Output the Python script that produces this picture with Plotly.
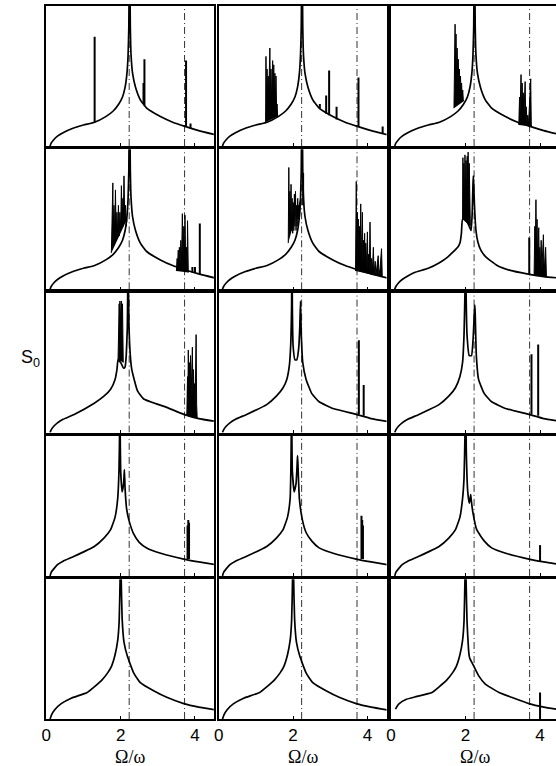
import plotly.graph_objects as go

# ------------------------------------------------------------------ data
tick_vals = [0, 2, 4]
tick_text = ["0", "2", "4"]
ref_lines = [2.23, 3.72]
x_label = "Ω/ω"
y_label = "S<sub>0</sub>"

# base spectrum with the singular peak at ~2.24 (upper rows)
baseA_x = [0.10, 0.13, 0.20, 0.30, 0.45, 0.70, 1.00, 1.30, 1.60, 1.80, 1.95, 2.05, 2.12, 2.17, 2.20, 2.22,
           2.233, 2.24, 2.247, 2.26, 2.28, 2.32, 2.40, 2.53, 2.70, 3.07, 3.40, 3.73, 4.10, 4.55]
baseA_y = [0.00, 0.02, 0.045, 0.07, 0.095, 0.125, 0.15, 0.17, 0.21, 0.25, 0.30, 0.35, 0.42, 0.52, 0.65, 0.85,
           1.30, 1.60, 1.30, 0.85, 0.65, 0.52, 0.42, 0.33, 0.27, 0.21, 0.17, 0.14, 0.11, 0.08]

# base spectrum with the singular peak at ~2.0 (lowest row)
baseB_x = [0.10, 0.14, 0.22, 0.40, 0.67, 1.10, 1.29, 1.50, 1.65, 1.75, 1.85, 1.92, 1.96, 1.985, 1.995, 2.00,
           2.005, 2.015, 2.04, 2.09, 2.18, 2.35, 2.53, 2.90, 3.24, 3.70, 4.10, 4.55]
baseB_y = [0.00, 0.03, 0.065, 0.11, 0.149, 0.19, 0.23, 0.28, 0.33, 0.375, 0.46, 0.56, 0.70, 1.00, 1.40, 1.60,
           1.40, 1.00, 0.72, 0.55, 0.45, 0.33, 0.26, 0.20, 0.155, 0.11, 0.085, 0.065]

# row 1, col 1
r1c1_sp_x = [1.30, 2.615, 2.64, 3.76, 3.88]
r1c1_sp_lo = [0.17, 0.30, 0.29, 0.14, 0.125]
r1c1_sp_hi = [0.78, 0.45, 0.62, 0.61, 0.16]

# row 1, col 2
r1c2_cl_x = [1.26, 1.27, 1.285, 1.30, 1.315, 1.33, 1.345, 1.36, 1.375, 1.39, 1.405, 1.42, 1.435, 1.45, 1.465,
             1.48, 1.495, 1.51, 1.525, 1.54, 1.555, 1.57, 1.585]
r1c2_cl_y = [0.17, 0.64, 0.30, 0.55, 0.32, 0.50, 0.33, 0.60, 0.70, 0.35, 0.55, 0.33, 0.50, 0.61, 0.35,
             0.58, 0.32, 0.52, 0.30, 0.50, 0.28, 0.30, 0.21]
r1c2_sp_x = [2.72, 2.89, 2.97, 3.17, 3.76, 4.41]
r1c2_sp_lo = [0.27, 0.23, 0.22, 0.19, 0.14, 0.085]
r1c2_sp_hi = [0.30, 0.36, 0.54, 0.28, 0.49, 0.14]

# row 1, col 3
r1c3_cl_x = [1.69, 1.70, 1.71, 1.72, 1.73, 1.745, 1.76, 1.775, 1.79, 1.805, 1.82, 1.835, 1.85, 1.865, 1.88,
             1.895, 1.91, 1.925, 1.94, 1.95, None,
             3.43, 3.45, 3.46, 3.48, 3.49, 3.505, 3.52, 3.535, 3.55, 3.565, 3.58, 3.60, 3.615, 3.63, 3.65,
             3.67, 3.69, 3.71, 3.73, 3.75, 3.765, 3.78]
r1c3_cl_y = [0.27, 0.60, 0.40, 0.87, 0.50, 0.80, 0.45, 0.70, 0.45, 0.62, 0.42, 0.55, 0.40, 0.50, 0.38,
             0.45, 0.35, 0.40, 0.33, 0.32, None,
             0.15, 0.35, 0.20, 0.45, 0.51, 0.22, 0.45, 0.20, 0.38, 0.20, 0.30, 0.46, 0.20, 0.28, 0.16,
             0.22, 0.15, 0.25, 0.35, 0.48, 0.15, 0.14]

# row 2, col 1
r2c1_cl_x = [1.75, 1.77, 1.79, 1.80, 1.82, 1.84, 1.86, 1.88, 1.90, 1.92, 1.94, 1.96, 1.98, 2.00, 2.02, 2.04,
             2.06, 2.07, 2.09, 2.11, 2.13, 2.15, 2.17, None,
             3.50, 3.52, 3.53, 3.55, 3.56, 3.58, 3.60, 3.62, 3.64, 3.66, 3.68, 3.70, 3.72, 3.73, 3.75, 3.77,
             3.79, 3.80, 3.82]
r2c1_cl_y = [0.26, 0.50, 0.76, 0.40, 0.60, 0.40, 0.71, 0.38, 0.55, 0.40, 0.60, 0.38, 0.55, 0.42, 0.74, 0.45,
             0.65, 0.45, 0.81, 0.50, 0.60, 0.45, 0.50, None,
             0.13, 0.22, 0.15, 0.28, 0.16, 0.30, 0.18, 0.35, 0.20, 0.54, 0.22, 0.45, 0.20, 0.53, 0.20, 0.30,
             0.15, 0.49, 0.12]
r2c1_sp_x = [3.93, 4.00, 4.13]
r2c1_sp_lo = [0.12, 0.12, 0.11]
r2c1_sp_hi = [0.16, 0.16, 0.47]

# row 2, col 2
r2c2_cl_x = [1.87, 1.885, 1.90, 1.915, 1.93, 1.945, 1.96, 1.975, 1.99, 2.005, 2.02, 2.035, 2.05, 2.065, 2.08,
             2.095, 2.11, 2.125, 2.14, 2.155, 2.17, 2.185, 2.20, None,
             3.68, 3.69, 3.70, 3.715, 3.73, 3.745, 3.76, 3.775, 3.79, 3.805, 3.82, 3.835, 3.85, 3.865, 3.88,
             3.895, 3.91, 3.925, 3.94, 3.955, 3.97, 3.985, 4.00, 4.015, 4.03, 4.05, 4.07, 4.09, 4.11, 4.13,
             4.16, 4.18, 4.21, 4.23, 4.26, 4.29, 4.31, 4.34, 4.38, 4.40]
r2c2_cl_y = [0.33, 0.87, 0.45, 0.70, 0.45, 0.75, 0.42, 0.65, 0.40, 0.62, 0.42, 0.68, 0.45, 0.70, 0.42,
             0.60, 0.45, 0.65, 0.50, 0.60, 0.50, 0.55, 0.65, None,
             0.13, 0.60, 0.77, 0.25, 0.55, 0.20, 0.50, 0.20, 0.45, 0.20, 0.61, 0.20, 0.40, 0.55, 0.18,
             0.35, 0.15, 0.40, 0.15, 0.33, 0.14, 0.30, 0.41, 0.13, 0.25, 0.12, 0.48, 0.12, 0.22, 0.11,
             0.30, 0.11, 0.20, 0.10, 0.18, 0.24, 0.10, 0.15, 0.29, 0.09]
r2c2_sp_x = [2.27]
r2c2_sp_lo = [0.60]
r2c2_sp_hi = [0.83]

# row 2, col 3
r2c3_x = [0.10, 0.13, 0.20, 0.30, 0.45, 0.63, 1.00, 1.30, 1.52, 1.79, 1.85, 1.89, 1.92, 2.00, 2.10, 2.15,
          2.18, 2.20, 2.21, 2.22, 2.24, 2.28, 2.33, 2.41, 2.55, 2.85, 3.20, 3.65, 4.10, 4.55]
r2c3_y = [0.00, 0.02, 0.045, 0.07, 0.095, 0.12, 0.15, 0.19, 0.23, 0.30, 0.33, 0.40, 0.50, 0.50, 0.45, 0.42,
          0.55, 0.75, 0.81, 0.75, 0.60, 0.42, 0.34, 0.28, 0.23, 0.17, 0.135, 0.11, 0.09, 0.08]
r2c3_cl_x = [1.92, 1.93, 1.94, 1.955, 1.97, 1.985, 2.00, 2.015, 2.03, 2.045, 2.06, 2.07, 2.085, 2.10, 2.115,
             2.13, None,
             3.84, 3.86, 3.875, 3.89, 3.905, 3.92, 3.935, 3.95, 3.965, 3.98, 3.995, 4.01, 4.03, 4.05, 4.07,
             4.09, 4.11, 4.13, 4.15, 4.17, 4.19]
r2c3_cl_y = [0.50, 0.94, 0.60, 0.90, 0.60, 0.96, 0.65, 0.92, 0.60, 0.95, 0.70, 0.98, 0.60, 0.90, 0.50,
             0.45, None,
             0.10, 0.45, 0.30, 0.64, 0.25, 0.50, 0.20, 0.40, 0.44, 0.18, 0.30, 0.15, 0.35, 0.14, 0.30,
             0.39, 0.12, 0.25, 0.30, 0.10, 0.09]
r2c3_sp_x = [3.71]
r2c3_sp_lo = [0.11]
r2c3_sp_hi = [0.37]

# row 3, col 1
r3c1_x = [0.10, 0.13, 0.20, 0.30, 0.45, 0.75, 1.29, 1.55, 1.73, 1.85, 1.90, 1.93, 2.00, 2.08, 2.12, 2.15,
          2.18, 2.195, 2.20, 2.205, 2.22, 2.26, 2.30, 2.45, 2.62, 3.24, 3.70, 4.10, 4.55]
r3c1_y = [0.00, 0.02, 0.045, 0.07, 0.095, 0.13, 0.21, 0.26, 0.31, 0.38, 0.45, 0.52, 0.50, 0.46, 0.47, 0.55,
          0.75, 1.20, 1.60, 1.20, 0.80, 0.55, 0.45, 0.30, 0.24, 0.18, 0.13, 0.10, 0.08]
r3c1_cl_x = [1.93, 1.94, 1.95, 1.96, 1.97, 1.98, 2.00, 2.02, 2.03, 2.05, 2.06, 2.07, None,
             3.78, 3.80, 3.81, 3.82, 3.835, 3.85, 3.865, 3.88, 3.895, 3.91, 3.93, 3.945, 3.96, 3.975, 3.99,
             4.005, 4.02, 4.03, 4.045, 4.06]
r3c1_cl_y = [0.52, 0.85, 0.70, 0.92, 0.75, 0.94, 0.80, 0.94, 0.80, 0.92, 0.70, 0.50, None,
             0.12, 0.40, 0.25, 0.59, 0.30, 0.50, 0.30, 0.55, 0.25, 0.45, 0.61, 0.25, 0.45, 0.20, 0.35,
             0.20, 0.60, 0.70, 0.20, 0.10]

# row 3, col 2
r3c2_x = [0.10, 0.13, 0.20, 0.30, 0.45, 0.75, 1.29, 1.55, 1.73, 1.83, 1.90, 1.94, 1.96, 1.97, 1.98, 2.00,
          2.05, 2.10, 2.15, 2.18, 2.20, 2.22, 2.26, 2.35, 2.50, 2.70, 3.10, 3.70, 4.10, 4.55]
r3c2_y = [0.00, 0.02, 0.045, 0.07, 0.095, 0.13, 0.20, 0.26, 0.32, 0.38, 0.48, 0.65, 0.90, 1.50, 0.90, 0.62,
          0.52, 0.52, 0.60, 0.75, 0.94, 0.70, 0.50, 0.38, 0.28, 0.22, 0.17, 0.13, 0.10, 0.08]
r3c2_sp_x = [3.77, 3.90]
r3c2_sp_lo = [0.13, 0.12]
r3c2_sp_hi = [0.66, 0.34]

# row 3, col 3
r3c3_x = [0.10, 0.13, 0.20, 0.30, 0.45, 0.75, 1.29, 1.55, 1.73, 1.85, 1.92, 1.96, 1.985, 2.00, 2.015, 2.04,
          2.10, 2.16, 2.21, 2.24, 2.25, 2.26, 2.29, 2.35, 2.50, 2.70, 3.10, 3.70, 4.10, 4.55]
r3c3_y = [0.00, 0.02, 0.045, 0.07, 0.095, 0.13, 0.20, 0.26, 0.32, 0.40, 0.50, 0.70, 1.00, 1.50, 1.00, 0.70,
          0.55, 0.55, 0.70, 0.88, 0.91, 0.85, 0.55, 0.38, 0.28, 0.22, 0.17, 0.13, 0.10, 0.08]
r3c3_sp_x = [3.77, 3.95]
r3c3_sp_lo = [0.13, 0.12]
r3c3_sp_hi = [0.56, 0.63]

# row 4, col 1
r4c1_x = [0.10, 0.13, 0.20, 0.30, 0.45, 0.75, 1.29, 1.55, 1.73, 1.85, 1.92, 1.955, 1.975, 1.98, 1.985, 2.00,
          2.04, 2.08, 2.10, 2.12, 2.16, 2.22, 2.35, 2.50, 2.70, 3.10, 3.70, 4.10, 4.55]
r4c1_y = [0.00, 0.025, 0.05, 0.08, 0.105, 0.14, 0.21, 0.27, 0.33, 0.42, 0.55, 0.75, 1.10, 1.50, 1.10, 0.75,
          0.60, 0.66, 0.76, 0.62, 0.48, 0.40, 0.30, 0.24, 0.20, 0.16, 0.12, 0.10, 0.08]
r4c1_sp_x = [3.80, 3.82, 3.84]
r4c1_sp_lo = [0.12, 0.12, 0.12]
r4c1_sp_hi = [0.36, 0.40, 0.38]

# row 4, col 2
r4c2_x = [0.10, 0.13, 0.20, 0.30, 0.45, 0.75, 1.29, 1.55, 1.73, 1.85, 1.92, 1.94, 1.955, 1.96, 1.965, 1.98,
          2.03, 2.08, 2.11, 2.12, 2.13, 2.17, 2.25, 2.35, 2.50, 2.70, 3.10, 3.70, 4.10, 4.55]
r4c2_y = [0.00, 0.025, 0.05, 0.08, 0.105, 0.14, 0.21, 0.27, 0.33, 0.42, 0.55, 0.75, 1.10, 1.50, 1.10, 0.75,
          0.60, 0.66, 0.80, 0.86, 0.80, 0.55, 0.40, 0.31, 0.25, 0.20, 0.16, 0.12, 0.10, 0.08]
r4c2_sp_x = [3.84, 3.86, 3.88]
r4c2_sp_lo = [0.12, 0.12, 0.12]
r4c2_sp_hi = [0.43, 0.40, 0.36]

# row 4, col 3
r4c3_x = [0.10, 0.13, 0.20, 0.30, 0.45, 0.75, 1.29, 1.55, 1.73, 1.85, 1.92, 1.96, 1.985, 1.995, 2.00, 2.005,
          2.02, 2.06, 2.10, 2.13, 2.14, 2.15, 2.20, 2.30, 2.50, 2.70, 3.10, 3.70, 4.10, 4.55]
r4c3_y = [0.00, 0.025, 0.05, 0.08, 0.105, 0.14, 0.21, 0.27, 0.33, 0.42, 0.55, 0.70, 1.00, 1.40, 1.60, 1.40,
          0.90, 0.60, 0.52, 0.56, 0.58, 0.55, 0.45, 0.33, 0.25, 0.20, 0.16, 0.12, 0.10, 0.08]
r4c3_sp_x = [4.00]
r4c3_sp_lo = [0.10]
r4c3_sp_hi = [0.22]

# row 5, col 3
r5c3_x = [0.12, 0.16, 0.22, 0.40, 0.67, 1.10, 1.29, 1.50, 1.65, 1.75, 1.85, 1.92, 1.96, 1.985, 1.995, 2.00,
          2.005, 2.015, 2.04, 2.08, 2.10, 2.12, 2.18, 2.35, 2.53, 2.90, 3.24, 3.70, 4.10, 4.55]
r5c3_y = [0.07, 0.09, 0.11, 0.14, 0.16, 0.19, 0.23, 0.28, 0.33, 0.375, 0.46, 0.56, 0.70, 1.00, 1.40, 1.60,
          1.40, 1.00, 0.70, 0.50, 0.45, 0.43, 0.40, 0.31, 0.25, 0.19, 0.155, 0.11, 0.085, 0.065]
r5c3_sp_x = [4.00]
r5c3_sp_lo = [0.00]
r5c3_sp_hi = [0.19]

empty = []

panels = [
    (baseA_x, baseA_y, empty, empty, r1c1_sp_x, r1c1_sp_lo, r1c1_sp_hi),
    (baseA_x, baseA_y, r1c2_cl_x, r1c2_cl_y, r1c2_sp_x, r1c2_sp_lo, r1c2_sp_hi),
    (baseA_x, baseA_y, r1c3_cl_x, r1c3_cl_y, empty, empty, empty),
    (baseA_x, baseA_y, r2c1_cl_x, r2c1_cl_y, r2c1_sp_x, r2c1_sp_lo, r2c1_sp_hi),
    (baseA_x, baseA_y, r2c2_cl_x, r2c2_cl_y, r2c2_sp_x, r2c2_sp_lo, r2c2_sp_hi),
    (r2c3_x, r2c3_y, r2c3_cl_x, r2c3_cl_y, r2c3_sp_x, r2c3_sp_lo, r2c3_sp_hi),
    (r3c1_x, r3c1_y, r3c1_cl_x, r3c1_cl_y, empty, empty, empty),
    (r3c2_x, r3c2_y, empty, empty, r3c2_sp_x, r3c2_sp_lo, r3c2_sp_hi),
    (r3c3_x, r3c3_y, empty, empty, r3c3_sp_x, r3c3_sp_lo, r3c3_sp_hi),
    (r4c1_x, r4c1_y, empty, empty, r4c1_sp_x, r4c1_sp_lo, r4c1_sp_hi),
    (r4c2_x, r4c2_y, empty, empty, r4c2_sp_x, r4c2_sp_lo, r4c2_sp_hi),
    (r4c3_x, r4c3_y, empty, empty, r4c3_sp_x, r4c3_sp_lo, r4c3_sp_hi),
    (baseB_x, baseB_y, empty, empty, empty, empty, empty),
    (baseB_x, baseB_y, empty, empty, empty, empty, empty),
    (r5c3_x, r5c3_y, empty, empty, r5c3_sp_x, r5c3_sp_lo, r5c3_sp_hi),
]

# ------------------------------------------------------------------ layout geometry (pixels)
W, H = 556, 766
col_px = [(41.7, 210.7), (215.7, 385.0), (389.5, 556.0)]
px_per_unit = [37.5, 37.5, 37.6]
row_px = [(6.0, 146.0), (149.3, 289.3), (292.6, 432.6), (435.9, 575.9), (579.2, 719.0)]

fig = go.Figure()
layout = dict(width=W, height=H, margin=dict(l=0, r=0, t=0, b=0),
              paper_bgcolor="white", plot_bgcolor="white", showlegend=False,
              font=dict(family="Liberation Sans, Arial, sans-serif", size=17, color="black"))
annotations = []

for k, (bx, by, cx, cy, sx, slo, shi) in enumerate(panels):
    r, c = divmod(k, 3)
    xa = "x" if k == 0 else f"x{k + 1}"
    ya = "y" if k == 0 else f"y{k + 1}"
    xkey = "xaxis" if k == 0 else f"xaxis{k + 1}"
    ykey = "yaxis" if k == 0 else f"yaxis{k + 1}"
    x0, x1 = col_px[c]
    y0, y1 = row_px[r]
    xmax = (x1 - x0) / px_per_unit[c]
    layout[xkey] = dict(domain=[x0 / W, x1 / W], range=[0, xmax], anchor=ya,
                        tickvals=tick_vals, ticktext=tick_text, showticklabels=(r == 4),
                        ticks="inside", ticklen=3, tickwidth=1, tickcolor="black",
                        showline=True, linewidth=1.5, linecolor="black", mirror=True,
                        showgrid=False, zeroline=False, fixedrange=True,
                        tickfont=dict(family="Liberation Sans, Arial, sans-serif", size=17))
    layout[ykey] = dict(domain=[1 - y1 / H, 1 - y0 / H], range=[0, 1], anchor=xa,
                        showticklabels=False, ticks="", showline=True, linewidth=1.5,
                        linecolor="black", mirror=(c < 2), showgrid=False, zeroline=False,
                        fixedrange=True)
    # dash-dot reference lines
    for xv in ref_lines:
        fig.add_trace(go.Scatter(x=[xv, xv], y=[0, 1], mode="lines", xaxis=xa, yaxis=ya,
                                 line=dict(color="#333333", width=1, dash="7px,3px,1px,3px"),
                                 hoverinfo="skip"))
    # base spectrum
    fig.add_trace(go.Scatter(x=bx, y=by, mode="lines", xaxis=xa, yaxis=ya,
                             line=dict(color="black", width=1.7, shape="spline", smoothing=0.4),
                             hoverinfo="skip"))
    # dense spike bursts
    if cx:
        fig.add_trace(go.Scatter(x=cx, y=cy, mode="lines", xaxis=xa, yaxis=ya, fill="toself",
                                 fillcolor="black", line=dict(color="black", width=1),
                                 hoverinfo="skip"))
    # isolated spikes
    if sx:
        vx, vy = [], []
        for xv, lo, hi in zip(sx, slo, shi):
            vx += [xv, xv, None]
            vy += [lo, hi, None]
        fig.add_trace(go.Scatter(x=vx, y=vy, mode="lines", xaxis=xa, yaxis=ya,
                                 line=dict(color="black", width=2), hoverinfo="skip"))

# axis titles below each column
for c in range(3):
    x0, x1 = col_px[c]
    xc = (x0 + (x0 + 169.0)) / 2
    annotations.append(dict(text=x_label, xref="paper", yref="paper", x=xc / W, y=1 - 757 / H,
                            xanchor="center", yanchor="middle", showarrow=False,
                            font=dict(family="Liberation Serif, Times New Roman, serif", size=18)))
annotations.append(dict(text=y_label, xref="paper", yref="paper", x=26 / W, y=1 - 358 / H,
                        xanchor="center", yanchor="middle", showarrow=False,
                        font=dict(family="Liberation Sans, Arial, sans-serif", size=18)))
layout["annotations"] = annotations
fig.update_layout(**layout)
fig.write_html("out.html", config={"displayModeBar": False},
               post_script="document.body.style.margin='0px';document.body.style.overflow='hidden';")
